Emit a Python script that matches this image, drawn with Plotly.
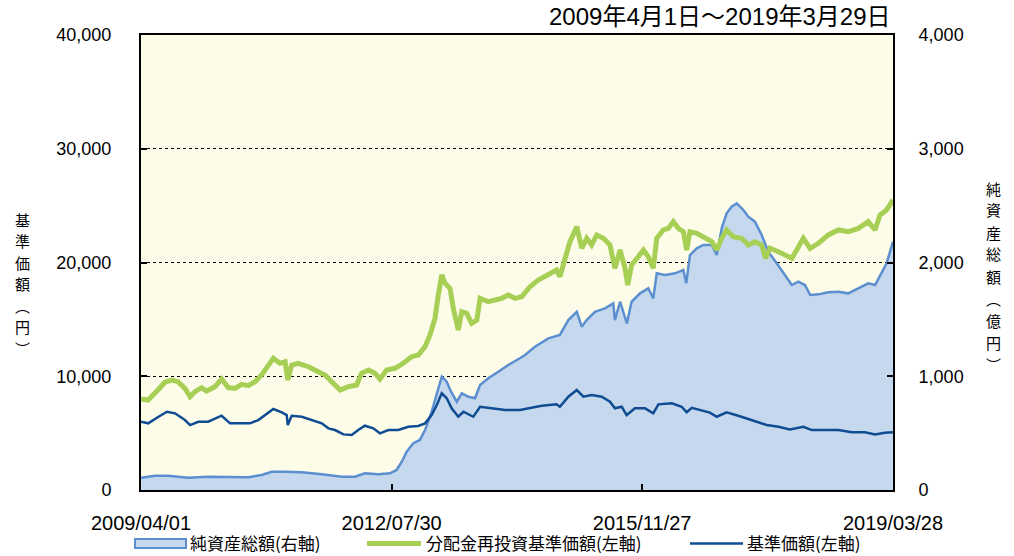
import plotly.graph_objects as go

# ---- data ----
nav_dates = ["2009-04-01","2009-05-05","2009-06-22","2009-07-26","2009-08-28","2009-09-27","2009-10-31","2009-11-25","2009-12-19",
             "2010-01-20","2010-02-13","2010-03-26","2010-04-27","2010-05-29","2010-07-01","2010-08-02","2010-09-03","2010-10-06","2010-11-07","2010-12-09",
             "2011-01-03","2011-02-04","2011-03-01","2011-03-14","2011-04-02","2011-05-04","2011-06-22","2011-08-09","2011-09-11","2011-10-13","2011-11-23",
             "2012-01-01","2012-02-11","2012-03-06","2012-04-08","2012-05-10","2012-06-03","2012-07-06","2012-08-15","2012-09-24","2012-11-04","2012-12-06",
             "2013-01-08","2013-02-01","2013-02-25","2013-03-13","2013-03-30","2013-04-15","2013-05-09","2013-05-25","2013-06-18","2013-07-05","2013-07-29","2013-08-22","2013-09-16","2013-10-02","2013-11-11","2013-12-13",
             "2014-01-15","2014-02-16","2014-03-20","2014-04-22","2014-06-01","2014-07-11","2014-08-29","2014-10-08","2014-10-24","2014-11-18","2014-12-12",
             "2015-01-14","2015-02-07","2015-03-03","2015-03-27","2015-04-21","2015-05-23","2015-06-24","2015-07-18","2015-08-12","2015-09-05","2015-09-18","2015-10-07","2015-11-08","2015-12-03","2015-12-27",
             "2016-01-20","2016-02-06","2016-03-09","2016-04-02","2016-04-26","2016-05-21","2016-06-14","2016-06-30","2016-07-16","2016-08-18","2016-09-19","2016-10-30","2016-11-23","2016-12-17",
             "2017-01-10","2017-02-11","2017-03-24","2017-04-25","2017-05-27","2017-06-29","2017-07-18","2017-08-08","2017-09-18","2017-10-28","2017-11-22","2017-12-16",
             "2018-01-17","2018-02-19","2018-03-31","2018-05-18","2018-07-06","2018-08-23","2018-10-11","2018-11-28","2018-12-31",
             "2019-01-24","2019-02-25","2019-03-28"]
nav_reinvested = [8000,7910,8790,9470,9670,9520,8940,8200,8640,
                  9000,8700,9080,9760,9000,8940,9290,9170,9520,10110,10990,
                  11580,11140,11280,9670,10990,11140,10840,10400,10110,9520,8790,
                  9080,9230,10260,10550,10260,9760,10550,10700,11140,11720,11870,
                  12600,13630,15090,17140,18900,18170,17730,15970,14070,15670,15530,14650,14940,16850,16550,16700,
                  16850,17140,16850,16990,17870,18460,18900,19340,18750,20220,21830,
                  23150,21250,22130,21540,22420,22130,21540,19490,21100,19490,18020,19780,20510,21100,20510,
                  19490,22130,22860,23000,23590,23000,22710,21100,22710,22570,22270,21830,21100,22130,
                  22860,22270,22130,21540,21830,21540,20370,21250,20950,20660,20370,21100,
                  22130,21250,21690,22420,22860,22710,23000,23590,22860,
                  24180,24620,25500]

base_dates = ["2009-04-01","2009-05-06","2009-06-25","2009-08-05","2009-09-13","2009-10-31","2009-11-25",
              "2010-01-04","2010-02-21","2010-04-27","2010-06-07","2010-08-02","2010-09-12","2010-10-22","2010-12-02",
              "2011-01-03","2011-02-13","2011-03-09","2011-03-14","2011-04-02","2011-05-21","2011-07-08","2011-08-26","2011-09-27","2011-10-29","2011-12-09",
              "2012-01-18","2012-02-19","2012-03-22","2012-05-02","2012-06-03","2012-07-14","2012-08-31","2012-10-19","2012-12-06",
              "2013-01-08","2013-02-09","2013-03-06","2013-03-30","2013-04-23","2013-05-17","2013-06-18","2013-07-13","2013-08-30","2013-10-02","2013-11-27",
              "2014-01-31","2014-04-13","2014-05-24","2014-07-28","2014-10-08","2014-10-24","2014-12-04",
              "2015-01-14","2015-02-15","2015-03-27","2015-05-15","2015-06-24","2015-07-18","2015-08-20","2015-09-13","2015-10-23","2015-12-11",
              "2016-01-20","2016-02-14","2016-04-19","2016-06-06","2016-06-30","2016-07-25","2016-09-11","2016-10-21","2016-11-23",
              "2017-01-10","2017-03-07","2017-05-11","2017-07-23","2017-09-18","2017-11-13",
              "2018-01-17","2018-02-27","2018-05-02","2018-07-06","2018-09-09","2018-11-12","2018-12-31",
              "2019-02-17","2019-03-28"]
base_price = [6000,5860,6440,6880,6740,6150,5710,
              6000,6000,6530,5860,5860,5860,6150,6740,
              7120,6830,6590,5710,6530,6440,6150,5860,5420,5270,4890,
              4830,5270,5650,5420,4980,5270,5270,5560,5630,
              5860,6590,7470,8500,8060,7180,6440,6880,6440,7320,7180,
              7030,7030,7180,7410,7530,7320,8200,
              8790,8200,8350,8200,7760,7180,7320,6590,7180,7180,
              6740,7530,7620,7320,6830,7230,7030,6800,6440,
              6830,6530,6150,5710,5560,5330,
              5560,5270,5270,5270,5070,5070,4890,
              5040,5070]

asset_dates = ["2009-04-01","2009-06-08","2009-08-11","2009-11-16","2010-02-21","2010-05-29","2010-09-03","2010-11-07","2010-12-26",
               "2011-03-01","2011-05-21","2011-08-26","2011-12-01","2012-02-03","2012-03-22","2012-05-26","2012-07-22","2012-08-23","2012-09-17","2012-10-11","2012-11-12","2012-12-14",
               "2013-01-08","2013-02-09","2013-03-06","2013-03-30","2013-04-23","2013-05-14","2013-06-11","2013-07-05","2013-08-06","2013-09-07","2013-10-02","2013-11-11","2013-12-29",
               "2014-02-16","2014-04-13","2014-05-08","2014-06-25","2014-08-29","2014-10-24","2014-12-04",
               "2015-01-14","2015-02-07","2015-03-03","2015-04-12","2015-05-31","2015-07-10","2015-07-18","2015-08-12","2015-09-14","2015-10-07","2015-11-17","2015-12-27",
               "2016-01-20","2016-02-06","2016-03-17","2016-05-05","2016-06-14","2016-06-28","2016-07-16","2016-08-18","2016-09-19","2016-10-30","2016-11-23","2016-12-17",
               "2017-01-10","2017-02-03","2017-02-28","2017-04-01","2017-04-25","2017-05-27","2017-06-29","2017-07-31","2017-09-10","2017-10-20","2017-11-22","2017-12-24",
               "2018-01-25","2018-02-19","2018-03-31","2018-05-18","2018-07-06","2018-08-23","2018-10-11","2018-11-28","2018-12-31",
               "2019-01-24","2019-02-25","2019-03-28"]
net_assets = [108,126,126,108,117,117,112,132,161,
              161,156,138,117,117,147,138,147,176,249,337,411,440,
              527,688,835,996,952,864,776,850,820,806,923,982,1040,
              1099,1158,1187,1260,1333,1363,1494,
              1567,1436,1494,1567,1597,1641,1494,1655,1465,1655,1729,1773,
              1685,1905,1890,1905,1934,1817,2066,2125,2154,2154,2066,2301,
              2432,2491,2520,2462,2403,2359,2242,2095,1993,1890,1802,1831,
              1802,1714,1720,1738,1743,1729,1773,1817,1802,
              1890,1993,2183]

x_tick_vals = ["2009-04-01", "2012-07-30", "2015-11-27", "2019-03-28"]
x_tick_text = ["2009/04/01", "2012/07/30", "2015/11/27", "2019/03/28"]
left_ticks = [0, 10000, 20000, 30000, 40000]
right_ticks = [0, 1000, 2000, 3000, 4000]

names = ["純資産総額(右軸)", "分配金再投資基準価額(左軸)", "基準価額(左軸)"]
title_text = "2009年4月1日～2019年3月29日"
left_title = "基準価額（円）"
right_title = "純資産総額（億円）"

NUM_FONT = "Liberation Sans, Arial, Noto Sans CJK JP, sans-serif"
CJK_FONT = "Noto Sans CJK JP, sans-serif"

AREA_LINE, AREA_FILL = "#5B8FD0", "#C6D8EE"
GREEN, NAVY = "#A8CF55", "#0F4C92"

fig = go.Figure()
fig.add_trace(go.Scatter(x=asset_dates, y=net_assets, name=names[0], mode="lines",
                         line=dict(color=AREA_LINE, width=2.5), fill="tozeroy",
                         fillcolor=AREA_FILL, yaxis="y", showlegend=False))
fig.add_trace(go.Scatter(x=nav_dates, y=nav_reinvested, name=names[1], mode="lines",
                         line=dict(color=GREEN, width=5), yaxis="y2", showlegend=False))
fig.add_trace(go.Scatter(x=base_dates, y=base_price, name=names[2], mode="lines",
                         line=dict(color=NAVY, width=2.5), yaxis="y2", showlegend=False))

# plot area in pixels: x 141..893, y 35..490
PL, PR, PT, PB = 141, 893, 35, 490
def px_x(x):
    return (x - PL) / (PR - PL)
def px_y(y):
    return (PB - y) / (PB - PT)

annotations = [
    dict(text=title_text, xref="paper", yref="paper", x=1.0, y=px_y(17), xanchor="right", yanchor="middle",
         showarrow=False, font=dict(family=NUM_FONT, size=24)),
]
def vertical_title(text, xc, y0, step, size):
    text = text.replace("（", "︵").replace("）", "︶")
    for i, ch in enumerate(text):
        annotations.append(dict(text=ch, xref="paper", yref="paper", x=px_x(xc), y=px_y(y0 + i * step),
                                xanchor="center", yanchor="middle", showarrow=False,
                                font=dict(family=CJK_FONT, size=size)))
vertical_title(left_title, 22, 219, 21.5, 15)
vertical_title(right_title, 993, 188, 22, 15)

# legend drawn as symbols + labels below the plot
LEG_Y = 543.5
TXT_Y = 542
shapes = [
    dict(type="rect", xref="paper", yref="paper", x0=px_x(135), x1=px_x(186), y0=px_y(548), y1=px_y(539),
         line=dict(color=AREA_LINE, width=2), fillcolor=AREA_FILL),
    dict(type="line", xref="paper", yref="paper", x0=px_x(367), x1=px_x(421), y0=px_y(LEG_Y), y1=px_y(LEG_Y),
         line=dict(color=GREEN, width=5)),
    dict(type="line", xref="paper", yref="paper", x0=px_x(690), x1=px_x(743), y0=px_y(LEG_Y), y1=px_y(LEG_Y),
         line=dict(color=NAVY, width=2.5)),
]
for name, lx in zip(names, [189, 425, 746]):
    annotations.append(dict(text=name, xref="paper", yref="paper", x=px_x(lx), y=px_y(TXT_Y),
                            xanchor="left", yanchor="middle", showarrow=False, borderpad=0,
                            font=dict(family=CJK_FONT, size=17)))

fig.update_layout(
    width=1014, height=556,
    margin=dict(l=PL, r=1014 - PR, t=PT, b=556 - PB, autoexpand=False),
    paper_bgcolor="white", plot_bgcolor="#FDFCE8",
    font=dict(family=NUM_FONT, size=18, color="black"),
    xaxis=dict(type="date", range=["2009-04-01", "2019-03-28"],
               tickvals=x_tick_vals, ticktext=x_tick_text, tickfont=dict(size=20),
               ticks="inside", ticklen=6, tickwidth=2, tickcolor="black",
               showline=True, linewidth=2, linecolor="black", mirror=True,
               showgrid=False, zeroline=False, ticklabelstandoff=14, automargin=False),
    yaxis=dict(range=[0, 4000], side="right", tickvals=right_ticks, tickformat=",",
               ticks="inside", ticklen=6, tickwidth=2, tickcolor="black",
               showline=True, linewidth=2, linecolor="black",
               showgrid=True, gridcolor="black", gridwidth=1, griddash="dot",
               zeroline=False, ticklabelstandoff=20, automargin=False),
    yaxis2=dict(range=[0, 40000], side="left", overlaying="y", tickvals=left_ticks, tickformat=",",
                ticks="inside", ticklen=6, tickwidth=2, tickcolor="black",
                showline=True, linewidth=2, linecolor="black",
                showgrid=False, zeroline=False, ticklabelstandoff=24, automargin=False),
    showlegend=False,
    shapes=shapes,
    annotations=annotations,
)

fig.write_html("out.html", config={"displayModeBar": False},
               post_script="document.body.style.margin='0px';document.body.style.padding='0px';")
